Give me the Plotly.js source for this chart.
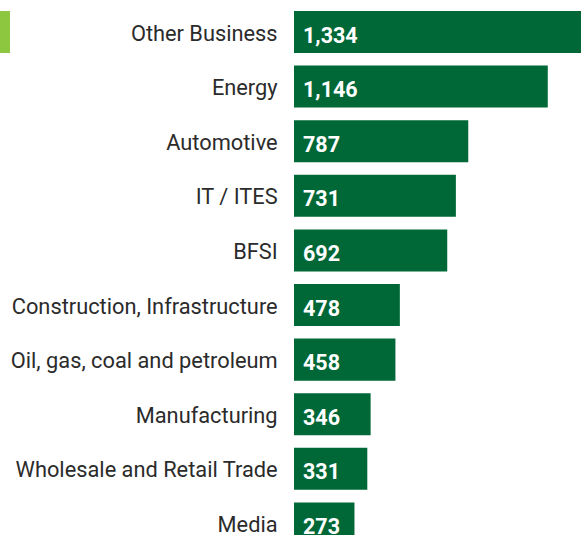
<!DOCTYPE html>
<html>
<head>
<meta charset="utf-8">
<script src="https://cdn.plot.ly/plotly-3.0.1.min.js"></script>
<style>html,body{margin:0;padding:0;background:#fff;}#chart{width:581px;height:535px;}</style>
</head>
<body>
<div id="chart"></div>
<script>
const categories = ["Other Business","Energy","Automotive","IT / ITES","BFSI","Construction, Infrastructure","Oil, gas, coal and petroleum","Manufacturing","Wholesale and Retail Trade","Media"];
const values = [1334,1146,787,731,692,478,458,346,331,273];

const barColor = "#006837";
const accent = "#8dc63f";

const trace = {
  type: "bar",
  orientation: "h",
  y: categories,
  x: values,
  marker: {color: barColor, line: {width: 0}},
  hoverinfo: "skip"
};

const annotations = categories.map((c, i) => ({
  x: 0, y: c, xref: "x", yref: "y",
  text: values[i].toLocaleString("en-US"),
  showarrow: false, xanchor: "left", yanchor: "middle",
  xshift: 7, yshift: -3,
  font: {family: "Roboto, sans-serif", size: 21.5, color: "#ffffff", weight: "bold"}
}));

const layout = {
  width: 581, height: 535,
  margin: {l: 294, r: 0, t: 0, b: 0, pad: 0},
  paper_bgcolor: "#ffffff", plot_bgcolor: "#ffffff",
  showlegend: false,
  bargap: 0.23,
  xaxis: {range: [0, 1296], visible: false, fixedrange: true},
  yaxis: {
    type: "category", categoryorder: "array", categoryarray: categories,
    range: [9.212, -0.586],
    showgrid: false, zeroline: false, showline: false,
    ticks: "outside", ticklen: 11, tickcolor: "rgba(0,0,0,0)",
    ticklabelshift: -1,
    tickfont: {family: "Roboto, sans-serif", size: 21.8, color: "#2b2b2b"},
    fixedrange: true
  },
  shapes: [{
    type: "rect", xref: "paper", yref: "paper",
    x0: -294/287, x1: (10-294)/287, y0: 1 - 53/535, y1: 1 - 11/535,
    fillcolor: accent, line: {width: 0}, layer: "above"
  }],
  annotations: annotations
};

Plotly.newPlot("chart", [trace], layout, {displayModeBar: false, staticPlot: true});
</script>
</body>
</html>
